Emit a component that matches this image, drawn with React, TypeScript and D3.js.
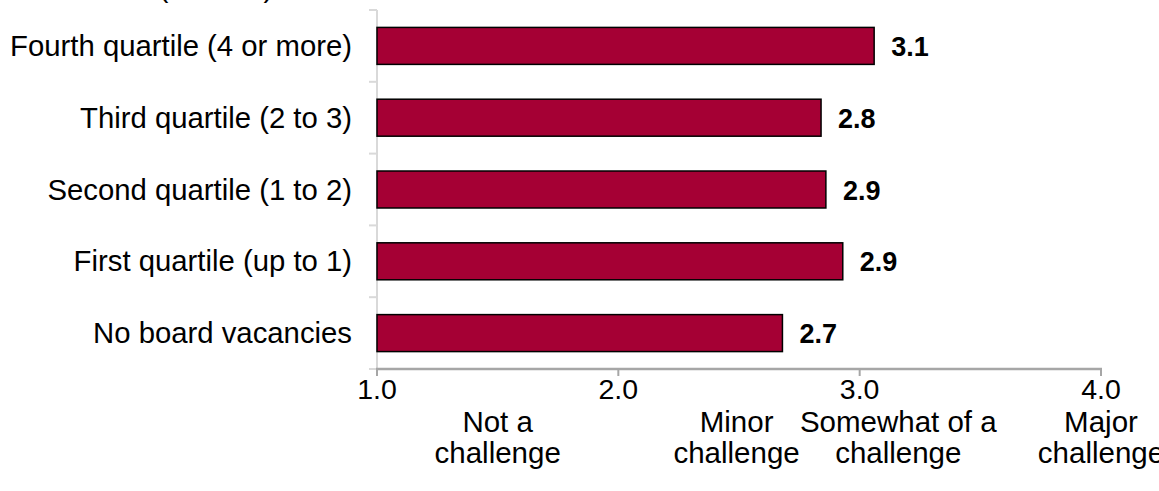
import React from "react";
import * as d3 from "d3";

// Average rating of board recruitment challenge, by number of board vacancies
const categories = [
  "Fourth quartile (4 or more)",
  "Third quartile (2 to 3)",
  "Second quartile (1 to 2)",
  "First quartile (up to 1)",
  "No board vacancies",
];
const values = [3.06, 2.84, 2.86, 2.93, 2.68];
const xTicks = [1, 2, 3, 4];
const scaleLabels = [
  { at: 1.5, lines: ["Not a", "challenge"] },
  { at: 2.49, lines: ["Minor", "challenge"] },
  { at: 3.16, lines: ["Somewhat of a", "challenge"] },
  { at: 4.0, lines: ["Major", "challenge"] },
];
const axisTitle = "(median)";

const W = 1159;
const H = 491;
const FONT = "Liberation Sans, Arial, Helvetica, sans-serif";

export default function App() {
  const x = d3.scaleLinear().domain([1, 4]).range([377, 1101]);
  const y = d3
    .scaleBand<string>()
    .domain(categories)
    .range([10, 369])
    .paddingInner(0.485)
    .paddingOuter(0.2425);
  const step = y.step();
  const top = 10;
  const bottom = 369;
  const boundaries = d3.range(categories.length + 1).map((i) => top + i * step);
  const fmt = d3.format(".1f");

  return (
    <svg
      width={W}
      height={H}
      style={{ position: "absolute", left: 0, top: 0, background: "#fff" }}
      fontFamily={FONT}
    >
      {/* axis title, running off the top edge */}
      <text x={216} y={-3} fontSize={29} textAnchor="middle" fill="#000">
        {axisTitle}
      </text>

      {/* category axis */}
      <line x1={x(1)} x2={x(1)} y1={top} y2={bottom} stroke="#d9d9d9" strokeWidth={2} />
      {boundaries.map((b, i) => (
        <line key={i} x1={x(1) - 8} x2={x(1)} y1={b} y2={b} stroke="#d9d9d9" strokeWidth={2} />
      ))}

      {/* bars */}
      {categories.map((c, i) => (
        <g key={c}>
          <rect
            x={x(1)}
            y={y(c)}
            width={x(values[i]) - x(1)}
            height={y.bandwidth()}
            fill="#a50034"
            stroke="#000"
            strokeWidth={1.5}
          />
          <text
            x={x(values[i]) + 17}
            y={(y(c) as number) + y.bandwidth() / 2 + 10}
            fontSize={27}
            fontWeight="bold"
            fill="#000"
          >
            {fmt(values[i])}
          </text>
          <text
            x={352}
            y={(y(c) as number) + y.bandwidth() / 2 + 10}
            fontSize={29.3}
            textAnchor="end"
            fill="#000"
          >
            {c}
          </text>
        </g>
      ))}

      {/* value axis */}
      <line x1={x(1) - 1} x2={x(4) + 1} y1={bottom} y2={bottom} stroke="#a6a6a6" strokeWidth={2.5} />
      {xTicks.map((t) => (
        <g key={t}>
          <line x1={x(t)} x2={x(t)} y1={bottom} y2={bottom + 7} stroke="#a6a6a6" strokeWidth={2} />
          <text x={x(t)} y={399} fontSize={28.5} textAnchor="middle" fill="#000">
            {fmt(t)}
          </text>
        </g>
      ))}

      {scaleLabels.map((s) => (
        <text key={s.lines[0]} x={x(s.at)} y={432} fontSize={29.5} textAnchor="middle" fill="#000">
          {s.lines.map((l, j) => (
            <tspan key={j} x={x(s.at)} dy={j === 0 ? 0 : 31}>
              {l}
            </tspan>
          ))}
        </text>
      ))}
    </svg>
  );
}
